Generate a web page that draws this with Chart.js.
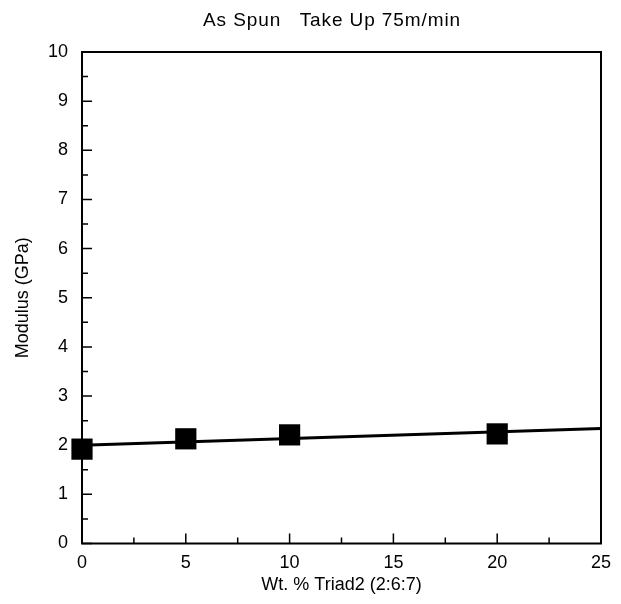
<!DOCTYPE html>
<html>
<head>
<meta charset="utf-8">
<script src="https://cdn.jsdelivr.net/npm/chart.js@4.4.1/dist/chart.umd.min.js"></script>
<style>
  html, body { margin: 0; padding: 0; background: #fff; }
  #wrap { width: 621px; height: 604px; }
</style>
</head>
<body>
<div id="wrap"><canvas id="modChart" width="621" height="604"></canvas></div>
<script>
// values
const wtPercent = [0, 5, 10, 20];
const modulus = [1.92, 2.13, 2.21, 2.23];
const fitX = [0, 25];
const fitY = [2.0, 2.34];
const xTicks = [0, 5, 10, 15, 20, 25];
const yTicks = [0, 1, 2, 3, 4, 5, 6, 7, 8, 9, 10];
const chartTitle = 'As Spun   Take Up 75m/min';

const font = "Liberation Sans, Arial, Helvetica, sans-serif";

// title, frame + inward ticks
const frameTicks = {
  id: 'frameTicks',
  beforeDraw(chart) {
    const ctx = chart.ctx;
    ctx.save();
    ctx.fillStyle = '#000';
    ctx.font = '19px ' + font;
    ctx.letterSpacing = '0.9px';
    ctx.textAlign = 'left';
    ctx.textBaseline = 'alphabetic';
    ctx.fillText(chartTitle, 203, 26);
    ctx.restore();
  },
  afterDatasetsDraw(chart) {
    const { ctx, chartArea: a, scales } = chart;
    const x = scales.x, y = scales.y;
    ctx.save();
    ctx.strokeStyle = '#000';
    ctx.lineWidth = 2;
    ctx.strokeRect(a.left, a.top, a.right - a.left, a.bottom - a.top);
    ctx.lineWidth = 1.5;
    ctx.beginPath();
    for (let v = 0; v <= 25; v += 2.5) {
      const px = x.getPixelForValue(v);
      const len = (v % 5 === 0) ? 10 : 6;
      ctx.moveTo(px, a.bottom);
      ctx.lineTo(px, a.bottom - len);
    }
    for (let v = 0; v <= 10; v += 0.5) {
      const py = y.getPixelForValue(v);
      const len = (v % 1 === 0) ? 10 : 6;
      ctx.moveTo(a.left, py);
      ctx.lineTo(a.left + len, py);
    }
    ctx.stroke();
    ctx.restore();
  }
};

new Chart(document.getElementById('modChart'), {
  type: 'scatter',
  data: {
    datasets: [
      {
        data: fitX.map((v, i) => ({ x: v, y: fitY[i] })),
        showLine: true,
        borderColor: '#000',
        borderWidth: 3,
        pointRadius: 0,
        order: 2
      },
      {
        data: wtPercent.map((v, i) => ({ x: v, y: modulus[i] })),
        pointStyle: 'rect',
        pointRadius: 15,
        backgroundColor: '#000',
        borderColor: '#000',
        borderWidth: 0,
        order: 1
      }
    ]
  },
  plugins: [frameTicks],
  options: {
    responsive: false,
    animation: false,
    clip: false,
    layout: { padding: { left: 0, right: 20, top: 52, bottom: 0 } },
    plugins: {
      legend: { display: false },
      tooltip: { enabled: false },
      title: { display: false }
    },
    scales: {
      x: {
        type: 'linear',
        min: 0,
        max: 25,
        afterBuildTicks: s => { s.ticks = xTicks.map(v => ({ value: v })); },
        afterFit: s => { s.height = 60.5; },
        grid: { display: false },
        border: { display: false },
        ticks: { color: '#000', font: { family: font, size: 18 }, padding: 1 },
        title: {
          display: true,
          text: 'Wt. % Triad2 (2:6:7)',
          color: '#000',
          font: { family: font, size: 18 },
          padding: { top: 2, bottom: 8 }
        }
      },
      y: {
        type: 'linear',
        min: 0,
        max: 10,
        afterBuildTicks: s => { s.ticks = yTicks.map(v => ({ value: v })); },
        afterFit: s => { s.width = 82; },
        grid: { display: false },
        border: { display: false },
        ticks: { color: '#000', font: { family: font, size: 18 }, padding: 6 },
        title: {
          display: true,
          text: 'Modulus (GPa)',
          color: '#000',
          font: { family: font, size: 18 },
          padding: { top: 12, bottom: 4 }
        }
      }
    }
  }
});
</script>
</body>
</html>
